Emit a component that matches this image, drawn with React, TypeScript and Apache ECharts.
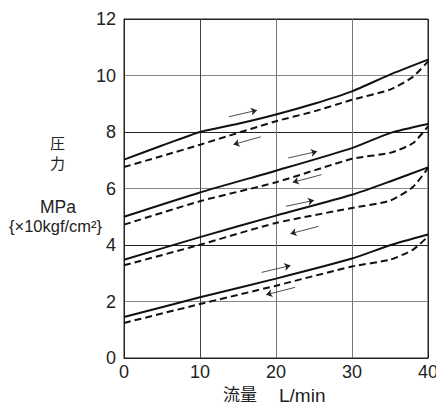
import React, { useEffect, useRef } from "react";
import * as echarts from "echarts";

const xTicks = [0, 10, 20, 30, 40];
const yTicks = [0, 2, 4, 6, 8, 10, 12];

const up1 = [[0, 7.02], [5, 7.52], [10, 8.0], [15, 8.29], [20, 8.62], [25, 9.0], [30, 9.44], [35, 10.03], [40, 10.56]];
const down1 = [[0, 6.76], [5, 7.15], [10, 7.55], [20, 8.38], [25, 8.73], [30, 9.14], [35, 9.5], [38, 9.95], [40, 10.5]];
const up2 = [[0, 5.0], [10, 5.86], [20, 6.63], [30, 7.43], [35, 7.96], [40, 8.28]];
const down2 = [[0, 4.72], [10, 5.55], [20, 6.22], [30, 7.05], [35, 7.26], [38, 7.6], [40, 8.2]];
const up3 = [[0, 3.48], [10, 4.28], [20, 5.04], [30, 5.78], [35, 6.25], [40, 6.75]];
const down3 = [[0, 3.28], [10, 4.01], [20, 4.78], [30, 5.31], [35, 5.57], [38, 6.05], [40, 6.72]];
const up4 = [[0, 1.45], [10, 2.15], [20, 2.81], [30, 3.52], [35, 3.99], [40, 4.37]];
const down4 = [[0, 1.24], [10, 1.91], [20, 2.56], [30, 3.24], [35, 3.48], [38, 3.83], [40, 4.3]];

const arrows = [
  [[13.8, 8.54], [17.5, 8.77]],
  [[18.0, 7.83], [14.4, 7.56]],
  [[21.6, 7.08], [25.4, 7.31]],
  [[26.0, 6.49], [22.2, 6.22]],
  [[21.3, 5.37], [25.0, 5.58]],
  [[25.6, 4.66], [21.9, 4.4]],
  [[18.1, 3.03], [21.9, 3.27]],
  [[22.5, 2.5], [18.7, 2.24]],
];

export default function App() {
  const ref = useRef<HTMLDivElement>(null);
  useEffect(() => {
    document.body.style.margin = "0";
    const chart = echarts.init(ref.current!, null, { renderer: "svg" });
    const font = "'Liberation Sans', Arial, sans-serif";
    const cjk = "'Noto Sans CJK JP', sans-serif";
    const solid = (d: number[][]) => ({
      type: "line",
      data: d,
      smooth: 0.2,
      showSymbol: false,
      lineStyle: { color: "#111", width: 2, type: "solid" },
      silent: true,
    });
    const dashed = (d: number[][]) => ({
      type: "line",
      data: d,
      smooth: 0.2,
      showSymbol: false,
      lineStyle: { color: "#111", width: 2, type: [7, 4] },
      silent: true,
    });
    chart.setOption({
      animation: false,
      grid: {
        left: 124,
        top: 19,
        right: 8,
        bottom: 47,
        show: true,
        borderColor: "#222",
        borderWidth: 1,
        outerBoundsMode: "none",
        containLabel: false,
      },
      xAxis: {
        type: "value",
        min: 0,
        max: 40,
        interval: 10,
        axisLine: { show: true, lineStyle: { color: "#222", width: 1 } },
        axisTick: { show: false },
        axisLabel: {
          color: "#222",
          fontSize: 18,
          fontFamily: font,
          margin: 5,
          formatter: (v: number) => (xTicks.includes(v) ? String(v) : ""),
        },
        splitLine: {
          show: true,
          lineStyle: { color: ["#222", "#444", "#777", "#777", "#222"], width: 1 },
        },
      },
      yAxis: {
        type: "value",
        min: 0,
        max: 12,
        interval: 2,
        axisLine: { show: true, lineStyle: { color: "#222", width: 1 } },
        axisTick: { show: false },
        axisLabel: {
          color: "#222",
          fontSize: 18,
          fontFamily: font,
          margin: 8,
          formatter: (v: number) => (yTicks.includes(v) ? String(v) : ""),
        },
        splitLine: {
          show: true,
          lineStyle: { color: ["#222", "#888", "#222", "#888", "#222", "#888", "#222"], width: 1 },
        },
      },
      graphic: [
        { type: "text", left: 50, top: 134, style: { text: "圧", font: "15px " + cjk, lineHeight: 17, fill: "#222" } },
        { type: "text", left: 50, top: 154, style: { text: "力", font: "15px " + cjk, lineHeight: 17, fill: "#222" } },
        { type: "text", left: 40, top: 198, style: { text: "MPa", font: "17.5px " + font, fill: "#222" } },
        { type: "text", left: 9, top: 217, style: { text: "{×10kgf/cm²}", font: "16.5px " + font, fill: "#222" } },
        { type: "text", left: 223, top: 385, style: { text: "流量", font: "17px " + cjk, fill: "#222" } },
        { type: "text", left: 279, top: 386, style: { text: "L/min", font: "19px " + font, fill: "#222" } },
      ],
      series: [
        solid(up1), dashed(down1),
        solid(up2), dashed(down2),
        solid(up3), dashed(down3),
        solid(up4), dashed(down4),
        {
          type: "lines",
          coordinateSystem: "cartesian2d",
          silent: true,
          symbol: ["none", "arrow"],
          symbolSize: 6,
          lineStyle: { color: "#222", width: 0.8, opacity: 1 },
          data: arrows.map((a) => ({ coords: a })),
        },
      ],
    });
    return () => chart.dispose();
  }, []);
  return <div ref={ref} style={{ width: 436, height: 405 }} />;
}
